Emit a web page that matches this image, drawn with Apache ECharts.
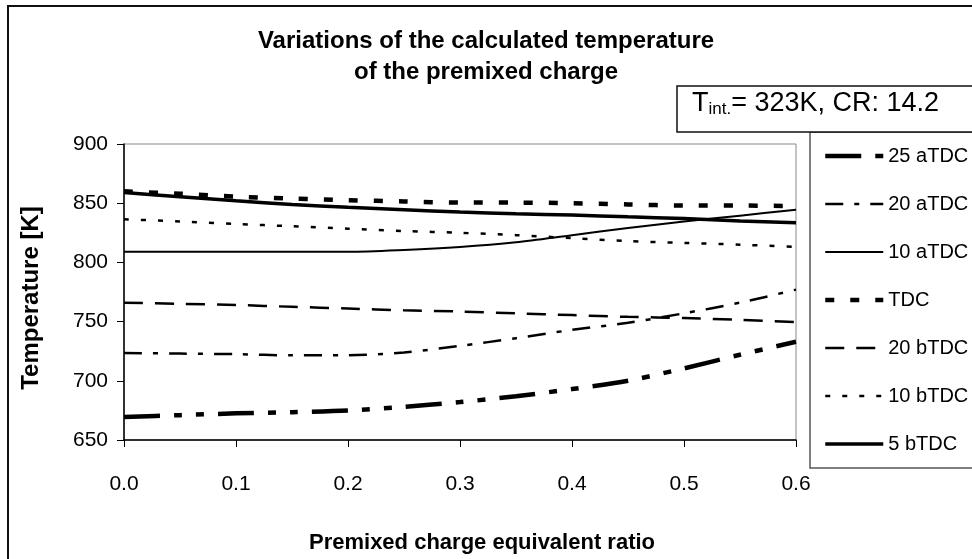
<!DOCTYPE html>
<html>
<head>
<meta charset="utf-8">
<script src="https://cdn.jsdelivr.net/npm/echarts@6/dist/echarts.min.js"></script>
<style>html,body{margin:0;padding:0;background:#fff;}#c{width:972px;height:559px;}</style>
</head>
<body>
<div id="c"></div>
<script>
// Data
var phi = [0.0, 0.05, 0.1, 0.15, 0.2, 0.25, 0.3, 0.35, 0.4, 0.45, 0.5, 0.55, 0.6];
var s25aTDC = [669.5, 671, 672.5, 673.5, 675, 678, 682, 687, 693, 700, 710.5, 722, 733];
var s20aTDC = [723.5, 723, 722.5, 721.5, 721.5, 724, 729.5, 736, 743, 749, 757, 766, 777];
var s10aTDC = [809, 809, 809, 809, 809, 810.5, 813, 817, 823, 829, 834.5, 839.5, 844.5];
var sTDC    = [860, 858, 855.5, 854, 852.5, 851.5, 850.5, 850.5, 850, 849, 848, 848, 847.5];
var s20bTDC = [766, 765, 764, 762.5, 761, 759.5, 758.5, 757, 755.5, 754, 753, 751.5, 749.5];
var s10bTDC = [836.5, 834.5, 832.5, 830.5, 828.5, 826.5, 825, 823, 820.5, 818, 816.5, 815, 813];
var s5bTDC  = [859, 855.5, 852, 849, 846.5, 844.5, 842.5, 841, 840, 838.5, 837, 835, 833.5];
var seriesNames = ['25 aTDC', '20 aTDC', '10 aTDC', 'TDC', '20 bTDC', '10 bTDC', '5 bTDC'];
var yTicks = [650, 700, 750, 800, 850, 900];
var xTicks = [0.0, 0.1, 0.2, 0.3, 0.4, 0.5, 0.6];

var FONT = 'Liberation Sans, Arial, sans-serif';
function pairs(vals) { return phi.map(function (p, i) { return [p, vals[i]]; }); }
var styles = [
  {w: 4.5, t: [36, 14, 8, 14, 8, 14]},
  {w: 2.5, t: [18, 11, 5, 11]},
  {w: 2, t: 'solid'},
  {w: 4.5, t: [9, 16]},
  {w: 2.5, t: [19, 12]},
  {w: 2.5, t: [5, 12]},
  {w: 3.5, t: 'solid'}
];
var vals = [s25aTDC, s20aTDC, s10aTDC, sTDC, s20bTDC, s10bTDC, s5bTDC];
var series = seriesNames.map(function (n, i) {
  return {
    name: n, type: 'line', data: pairs(vals[i]), symbol: 'none', smooth: 0.3,
    lineStyle: {color: '#000', width: styles[i].w, type: styles[i].t, cap: 'butt'},
    itemStyle: {color: '#000'}
  };
});

var chart = echarts.init(document.getElementById('c'));
chart.setOption({
  animation: false,
  backgroundColor: '#fff',
  textStyle: {fontFamily: FONT},
  title: {
    text: 'Variations of the calculated temperature\nof the premixed charge',
    left: 'center', top: 21,
    textStyle: {fontFamily: FONT, fontSize: 24, fontWeight: 'bold', color: '#000', lineHeight: 31}
  },
  grid: {left: 124, right: 176, top: 144, bottom: 107, show: true, borderColor: '#888', borderWidth: 1},
  xAxis: {
    type: 'value', min: 0, max: 0.6, interval: 0.1,
    name: 'Premixed charge equivalent ratio', nameLocation: 'middle', nameGap: 92,
    nameTextStyle: {fontFamily: FONT, fontSize: 22, fontWeight: 'bold', color: '#000', padding: [0, 0, 0, 44]},
    axisLine: {lineStyle: {color: '#000', width: 1.5}},
    axisTick: {show: true, inside: false, length: 7, lineStyle: {color: '#000'}},
    axisLabel: {fontFamily: FONT, fontSize: 21, color: '#000', margin: 34,
      formatter: function (v) { return v.toFixed(1); }},
    splitLine: {show: false}
  },
  yAxis: {
    type: 'value', min: 650, max: 900, interval: 50,
    name: 'Temperature [K]', nameLocation: 'middle', nameGap: 81,
    nameTextStyle: {fontFamily: FONT, fontSize: 24, fontWeight: 'bold', color: '#000', padding: [0, 12, 0, 0]},
    axisLine: {show: true, lineStyle: {color: '#000', width: 1.5}},
    axisTick: {show: true, inside: false, length: 7, lineStyle: {color: '#000'}},
    axisLabel: {fontFamily: FONT, fontSize: 21, color: '#000', margin: 16},
    splitLine: {show: false}
  },
  legend: {
    orient: 'vertical', left: 823, top: 146, padding: 0,
    itemWidth: 58, itemHeight: 14, itemGap: 28,
    data: seriesNames,
    itemStyle: {opacity: 0},
    lineStyle: {width: 'inherit', type: 'inherit', color: '#000'},
    textStyle: {fontFamily: FONT, fontSize: 20, color: '#000'}
  },
  graphic: [
    {type: 'rect', shape: {x: 8, y: 6, width: 1000, height: 600}, style: {fill: 'none', stroke: '#111', lineWidth: 2}, silent: true, z: 0},
    {type: 'rect', shape: {x: 810, y: 132, width: 200, height: 336}, style: {fill: 'none', stroke: '#555', lineWidth: 1.5}, silent: true},
    {type: 'rect', shape: {x: 677, y: 86, width: 320, height: 46}, style: {fill: '#fff', stroke: '#111', lineWidth: 1.5}, silent: true},
    {type: 'text', left: 692, top: 90, silent: true,
      style: {text: 'T{s|int.}= 323K, CR: 14.2', fill: '#000', font: '27px ' + FONT,
        rich: {s: {fontSize: 17, fontFamily: FONT, padding: [12, 0, 0, 0], fill: '#000'}}}}
  ],
  series: series
});
</script>
</body>
</html>
